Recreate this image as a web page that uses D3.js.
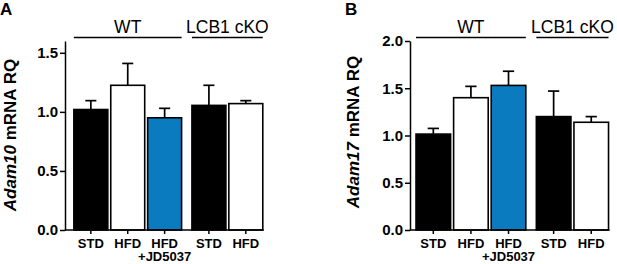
<!DOCTYPE html>
<html>
<head>
<meta charset="utf-8">
<script src="https://cdn.jsdelivr.net/npm/d3@7"></script>
<style>
  body { margin: 0; background: #fff; }
  svg { display: block; font-family: Arial, "Liberation Sans", sans-serif; }
</style>
</head>
<body>
<div id="chart"></div>
<script>
// Data
const categories = ['STD', 'HFD', 'HFD', 'STD', 'HFD'];
const subLabels = ['', '', '+JD5037', '', ''];
const groups = ['WT', 'WT', 'WT', 'LCB1 cKO', 'LCB1 cKO'];
const fills = ['#000000', '#ffffff', '#0b7bc0', '#000000', '#ffffff'];

const adam10Mean = [1.02, 1.225, 0.95, 1.055, 1.07];
const adam10Err = [0.075, 0.185, 0.08, 0.17, 0.025];
const adam17Mean = [1.015, 1.40, 1.53, 1.20, 1.14];
const adam17Err = [0.06, 0.12, 0.15, 0.27, 0.06];

const yTicksA = [0, 0.5, 1.0, 1.5];
const yTicksB = [0, 0.5, 1.0, 1.5, 2.0];

// Constants
const WIDTH = 617;
const HEIGHT = 264;
const Y0 = 230;
const YTOP = 41;

const svg = d3.select('#chart')
  .append('svg')
  .attr('width', WIDTH)
  .attr('height', HEIGHT);

const panels = [
  { letter: 'A', letterX: 0, gene: 'Adam10', axisX: 65, leftPad: 0.7, unit: 36.9, yMax: 1.6,
    ticks: yTicksA, mean: adam10Mean, err: adam10Err, labelX: 10, labelY: 135 },
  { letter: 'B', letterX: 345, gene: 'Adam17', axisX: 410, leftPad: 0.62, unit: 37.6, yMax: 2.0,
    ticks: yTicksB, mean: adam17Mean, err: adam17Err, labelX: 353, labelY: 132 }
];

// slot position: bars in second group get a small extra gap
const slots = groups.map((g, i) => i + (g === 'WT' ? 0 : 0.2));

panels.forEach(p => {
  const x = d3.scaleLinear()
    .domain([-p.leftPad, 0])
    .range([p.axisX, p.axisX + p.leftPad * p.unit]);
  const y = d3.scaleLinear().domain([0, p.yMax]).range([Y0, YTOP]);
  const bw = 0.92 * p.unit;
  const capW = 0.3 * p.unit;

  const g = svg.append('g');

  // Panel letter
  g.append('text')
    .attr('x', p.letterX)
    .attr('y', 15)
    .attr('font-size', 17)
    .attr('font-weight', 'bold')
    .text(p.letter);

  // Y axis
  const yAxis = g.append('g')
    .attr('transform', `translate(${p.axisX},0)`)
    .call(d3.axisLeft(y).tickValues(p.ticks).tickFormat(d3.format('.1f')).tickSize(5).tickSizeOuter(0).tickPadding(2));
  yAxis.select('.domain').attr('stroke-width', 1.5);
  yAxis.selectAll('.tick line').attr('stroke-width', 1.5);
  yAxis.selectAll('.tick text')
    .attr('font-size', 15)
    .attr('font-weight', 'bold')
    .attr('font-family', 'Arial, "Liberation Sans", sans-serif')
    .attr('fill', '#000');

  // Y label
  const yl = g.append('text')
    .attr('transform', `translate(${p.labelX},${p.labelY}) rotate(-90)`)
    .attr('text-anchor', 'middle')
    .attr('dominant-baseline', 'central')
    .attr('font-size', 17)
    .attr('font-weight', 'bold');
  yl.append('tspan').attr('font-style', 'italic').text(p.gene);
  yl.append('tspan').text(' mRNA RQ');

  // Bars
  g.selectAll('rect.bar')
    .data(p.mean)
    .join('rect')
    .attr('class', 'bar')
    .attr('x', (d, i) => x(slots[i]) - bw / 2)
    .attr('y', d => y(d))
    .attr('width', bw)
    .attr('height', d => Y0 - y(d))
    .attr('fill', (d, i) => fills[i])
    .attr('stroke', '#000')
    .attr('stroke-width', 1.6);

  // Error bars
  const eb = g.selectAll('g.err')
    .data(p.mean)
    .join('g')
    .attr('class', 'err');
  eb.append('line')
    .attr('x1', (d, i) => x(slots[i]))
    .attr('x2', (d, i) => x(slots[i]))
    .attr('y1', d => y(d))
    .attr('y2', (d, i) => y(d + p.err[i]))
    .attr('stroke', '#000')
    .attr('stroke-width', 1.7);
  eb.append('line')
    .attr('x1', (d, i) => x(slots[i]) - capW / 2)
    .attr('x2', (d, i) => x(slots[i]) + capW / 2)
    .attr('y1', (d, i) => y(d + p.err[i]))
    .attr('y2', (d, i) => y(d + p.err[i]))
    .attr('stroke', '#000')
    .attr('stroke-width', 1.7);

  // X axis
  const xEnd = x(slots[slots.length - 1]) + bw / 2 + 1;
  g.append('line')
    .attr('x1', p.axisX)
    .attr('x2', xEnd)
    .attr('y1', Y0)
    .attr('y2', Y0)
    .attr('stroke', '#000')
    .attr('stroke-width', 1.5);
  g.selectAll('line.xtick')
    .data(slots)
    .join('line')
    .attr('class', 'xtick')
    .attr('x1', d => x(d))
    .attr('x2', d => x(d))
    .attr('y1', Y0)
    .attr('y2', Y0 + 4)
    .attr('stroke', '#000')
    .attr('stroke-width', 1.5);
  g.selectAll('text.xlab')
    .data(categories)
    .join('text')
    .attr('class', 'xlab')
    .attr('x', (d, i) => x(slots[i]))
    .attr('y', 247.5)
    .attr('text-anchor', 'middle')
    .attr('font-size', 13)
    .attr('font-weight', 'bold')
    .text(d => d);
  g.selectAll('text.xsub')
    .data(subLabels.filter(s => s))
    .join('text')
    .attr('class', 'xsub')
    .attr('x', d => x(slots[subLabels.indexOf(d)]))
    .attr('y', 261)
    .attr('text-anchor', 'middle')
    .attr('font-size', 13)
    .attr('font-weight', 'bold')
    .text(d => d);

  // Group lines and labels
  const groupNames = Array.from(new Set(groups));
  groupNames.forEach(name => {
    const idx = groups.map((gr, i) => gr === name ? i : -1).filter(i => i >= 0);
    const x1 = x(slots[idx[0]]) - bw / 2;
    const x2 = x(slots[idx[idx.length - 1]]) + bw / 2;
    g.append('line')
      .attr('x1', x1)
      .attr('x2', x2)
      .attr('y1', 37.5)
      .attr('y2', 37.5)
      .attr('stroke', '#000')
      .attr('stroke-width', 1.5);
    g.append('text')
      .attr('x', (x1 + x2) / 2)
      .attr('y', 33)
      .attr('text-anchor', 'middle')
      .attr('font-size', 17.5)
      .text(name);
  });
});
</script>
</body>
</html>
